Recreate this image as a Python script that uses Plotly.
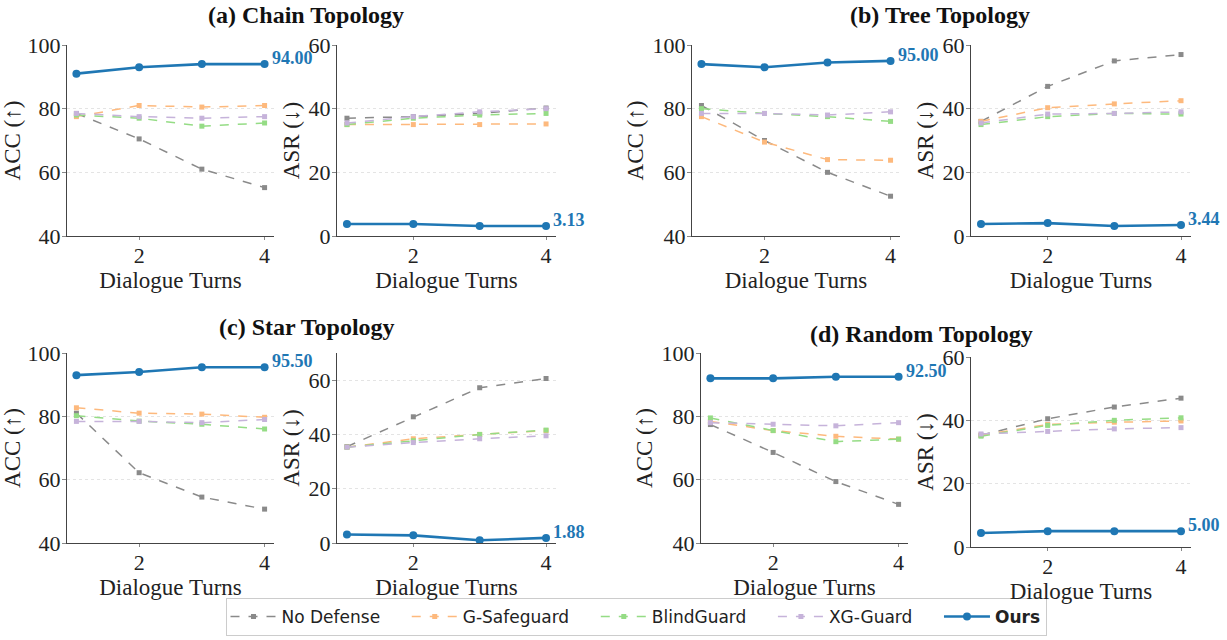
import plotly.graph_objects as go

turns = [1, 2, 3, 4]
methods = ["No Defense", "G-Safeguard", "BlindGuard", "XG-Guard", "Ours"]
titles = ["(a) Chain Topology", "(b) Tree Topology", "(c) Star Topology", "(d) Random Topology"]
acc_ticks = [40, 60, 80, 100]
asr_ticks = [0, 20, 40, 60]
xticks = [2, 4]

chain_acc = {
    "No Defense": [78.5, 70.5, 61.0, 55.2],
    "G-Safeguard": [77.5, 81.0, 80.5, 81.0],
    "BlindGuard": [78.0, 77.0, 74.5, 75.5],
    "XG-Guard": [78.5, 77.5, 77.0, 77.5],
    "Ours": [91.0, 93.0, 94.0, 94.0],
}
chain_asr = {
    "No Defense": [37.0, 37.5, 38.5, 40.2],
    "G-Safeguard": [35.0, 35.0, 35.0, 35.2],
    "BlindGuard": [35.0, 37.0, 38.0, 38.5],
    "XG-Guard": [35.5, 37.5, 39.0, 40.0],
    "Ours": [3.75, 3.75, 3.13, 3.13],
}
tree_acc = {
    "No Defense": [81.0, 70.0, 60.0, 52.5],
    "G-Safeguard": [77.5, 69.5, 64.0, 63.8],
    "BlindGuard": [80.0, 78.5, 77.5, 76.0],
    "XG-Guard": [78.5, 78.5, 78.0, 79.0],
    "Ours": [94.0, 93.0, 94.5, 95.0],
}
tree_asr = {
    "No Defense": [36.0, 47.0, 55.0, 57.0],
    "G-Safeguard": [36.0, 40.3, 41.5, 42.5],
    "BlindGuard": [35.0, 37.5, 38.5, 38.3],
    "XG-Guard": [35.5, 38.3, 38.5, 39.0],
    "Ours": [3.75, 4.06, 3.13, 3.44],
}
star_acc = {
    "No Defense": [81.0, 62.2, 54.5, 50.7],
    "G-Safeguard": [82.7, 81.0, 80.7, 79.7],
    "BlindGuard": [80.2, 78.5, 77.5, 76.0],
    "XG-Guard": [78.4, 78.4, 78.0, 79.0],
    "Ours": [93.0, 94.0, 95.5, 95.5],
}
star_asr = {
    "No Defense": [35.5, 46.5, 57.2, 60.6],
    "G-Safeguard": [35.3, 38.4, 40.0, 41.4],
    "BlindGuard": [35.3, 37.7, 40.0, 41.6],
    "XG-Guard": [35.3, 37.0, 38.4, 39.5],
    "Ours": [3.13, 2.81, 1.0, 1.88],
}
random_acc = {
    "No Defense": [77.4, 68.6, 59.4, 52.2],
    "G-Safeguard": [78.4, 75.5, 73.7, 72.8],
    "BlindGuard": [79.5, 75.5, 72.0, 72.8],
    "XG-Guard": [78.0, 77.5, 77.0, 78.0],
    "Ours": [92.0, 92.0, 92.5, 92.5],
}
random_asr = {
    "No Defense": [35.3, 40.5, 44.2, 47.0],
    "G-Safeguard": [35.3, 38.7, 39.4, 39.8],
    "BlindGuard": [35.0, 38.4, 40.0, 40.8],
    "XG-Guard": [35.7, 36.5, 37.3, 37.7],
    "Ours": [4.4, 5.0, 5.0, 5.0],
}

W, H = 1227, 640
SERIF = "Liberation Serif, Times New Roman, serif"
colors = {
    "No Defense": "#8a8a8a",
    "G-Safeguard": "#fdb97d",
    "BlindGuard": "#95dc85",
    "XG-Guard": "#c6b3da",
    "Ours": "#1f77b4",
}
PAD = "\u00a0" * 4

def fx(p):
    return p / W

def fy(p):
    return 1 - p / H

# (data, ytitle, x-px span, y-px span, yrange, yticks)
panels = [
    (chain_acc, "ACC (↑)", (67, 274), (45, 236), [40, 100], acc_ticks),
    (chain_asr, "ASR (↓)", (337, 556), (45, 236), [0, 60], asr_ticks),
    (tree_acc, "ACC (↑)", (692, 900), (45, 236), [40, 100], acc_ticks),
    (tree_asr, "ASR (↓)", (971, 1191), (45, 236), [0, 60], asr_ticks),
    (star_acc, "ACC (↑)", (67, 274), (353, 543), [40, 100], acc_ticks),
    (star_asr, "ASR (↓)", (337, 556), (353, 543), [0, 70], asr_ticks),
    (random_acc, "ACC (↑)", (701, 908), (353, 543), [40, 100], acc_ticks),
    (random_asr, "ASR (↓)", (971, 1191), (357, 547), [0, 60], asr_ticks),
]

fig = go.Figure()
annotations = []
layout_axes = {}

for i, (data, ytitle, xs, ys, yr, yt) in enumerate(panels):
    n = i + 1
    xa = "x" if n == 1 else f"x{n}"
    ya = "y" if n == 1 else f"y{n}"
    for m in methods:
        ours = m == "Ours"
        fig.add_trace(go.Scatter(
            x=turns, y=data[m], xaxis=xa, yaxis=ya,
            mode="lines+markers",
            name="<b>Ours</b>" if ours else m + PAD,
            legendgroup=m, showlegend=(i == 0),
            line=dict(color=colors[m], width=2.6 if ours else 1.5,
                      dash="solid" if ours else "dash"),
            marker=dict(color=colors[m], size=8 if ours else 5,
                        symbol="circle" if ours else "square"),
        ))
    last = data["Ours"][-1]
    annotations.append(dict(
        x=turns[-1], y=last, xref=xa, yref=ya, text=f"<b>{last:.2f}</b>",
        showarrow=False, xanchor="left", yanchor="middle", xshift=5, yshift=6,
        font=dict(family=SERIF, size=18, color=colors["Ours"]),
    ))
    layout_axes["xaxis" if n == 1 else f"xaxis{n}"] = dict(
        domain=[fx(xs[0]), fx(xs[1])], anchor=ya, range=[0.85, 4.15],
        tickvals=xticks, ticks="outside", ticklen=3, tickcolor="#888",
        ticklabelstandoff=-3,
        showgrid=False, zeroline=False,
        showline=True, linecolor="#444", linewidth=1, automargin=False,
        tickfont=dict(family=SERIF, size=22, color="#222"),
        title=dict(text="Dialogue Turns", standoff=0,
                   font=dict(family=SERIF, size=23, color="#222")),
    )
    layout_axes["yaxis" if n == 1 else f"yaxis{n}"] = dict(
        domain=[fy(ys[1]), fy(ys[0])], anchor=xa, range=yr,
        tickvals=yt, ticks="outside", ticklen=4, tickcolor="#888",
        ticklabelstandoff=-3,
        showgrid=True, gridcolor="#e4e4e4",
        griddash="dot", gridwidth=1, zeroline=False, automargin=False,
        showline=True, linecolor="#444", linewidth=1,
        tickfont=dict(family=SERIF, size=22, color="#222"),
        title=dict(text=ytitle, standoff=2,
                   font=dict(family=SERIF, size=23, color="#222")),
    )

title_pos = [(306, 15), (940, 15), (307, 327), (921, 334)]
for t, (px, py) in zip(titles, title_pos):
    annotations.append(dict(
        x=fx(px), y=fy(py), xref="paper", yref="paper", text=f"<b>{t}</b>",
        showarrow=False, xanchor="center", yanchor="middle",
        font=dict(family=SERIF, size=24, color="#111"),
    ))

fig.update_layout(
    width=W, height=H,
    margin=dict(l=0, r=0, t=0, b=0, autoexpand=False),
    paper_bgcolor="white", plot_bgcolor="white",
    annotations=annotations,
    legend=dict(orientation="h", x=fx(636), y=fy(617), xanchor="center",
                yanchor="middle", bordercolor="#cccccc", borderwidth=1,
                font=dict(family="DejaVu Sans", size=17, color="#222"),
                itemwidth=46, tracegroupgap=0),
    **layout_axes,
)

fig.write_html("out.html", config={"displayModeBar": False},
               post_script="document.body.style.margin='0';")
